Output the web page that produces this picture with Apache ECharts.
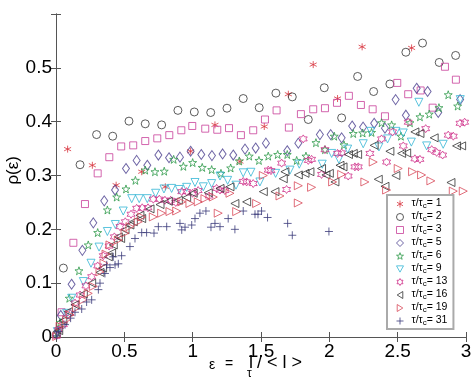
<!DOCTYPE html>
<html><head><meta charset="utf-8">
<script src="https://cdn.jsdelivr.net/npm/echarts@6/dist/echarts.min.js"></script>
<style>html,body{margin:0;padding:0;background:#fff}#c{width:475px;height:382px}</style>
</head><body><div id="c"></div>
<script>
const seriesNames = ['1','2','3','5','6','9','13','16','19','31'];
const xTicks = [0, 0.5, 1, 1.5, 2, 2.5, 3];
const yTicks = [0, 0.1, 0.2, 0.3, 0.4, 0.5];

const s1 = [[0.02,0.015],[0.085,0.349],[0.266,0.319],[0.44,0.282],[0.627,0.307],[0.80,0.279],[0.985,0.345],[1.163,0.394],[1.346,0.326],[1.524,0.391],[1.70,0.451],[1.882,0.506],[2.06,0.443],[2.24,0.539],[2.602,0.537]];
const s2 = [[0.005,0.005],[0.054,0.128],[0.176,0.320],[0.297,0.376],[0.415,0.373],[0.534,0.401],[0.653,0.396],[0.773,0.394],[0.892,0.421],[1.012,0.418],[1.132,0.417],[1.251,0.425],[1.370,0.443],[1.487,0.426],[1.609,0.453],[1.729,0.446],[1.846,0.404],[1.963,0.463],[2.09,0.407],[2.207,0.484],[2.324,0.456],[2.443,0.470],[2.56,0.529],[2.682,0.546],[2.804,0.510],[2.924,0.523]];
const s3 = [[0.005,0.004],[0.041,0.046],[0.127,0.175],[0.212,0.247],[0.305,0.304],[0.39,0.334],[0.477,0.354],[0.565,0.356],[0.653,0.364],[0.741,0.369],[0.829,0.375],[0.917,0.384],[0.997,0.392],[1.092,0.387],[1.18,0.385],[1.266,0.388],[1.353,0.375],[1.443,0.384],[1.529,0.404],[1.614,0.421],[1.704,0.389],[1.792,0.414],[1.882,0.423],[1.968,0.425],[2.056,0.435],[2.143,0.448],[2.231,0.431],[2.317,0.423],[2.407,0.410],[2.497,0.472],[2.577,0.451],[2.668,0.458],[2.756,0.426],[2.846,0.502],[2.926,0.478]];
const s5 = [[0.01,0.01],[0.035,0.04],[0.114,0.098],[0.193,0.161],[0.273,0.212],[0.353,0.253],[0.432,0.273],[0.512,0.313],[0.590,0.328],[0.668,0.319],[0.749,0.338],[0.827,0.333],[0.907,0.334],[0.985,0.345],[1.063,0.339],[1.141,0.337],[1.219,0.340],[1.297,0.338],[1.383,0.349],[1.461,0.351],[1.536,0.360],[1.692,0.346],[1.773,0.360],[1.931,0.376],[2.01,0.376],[2.09,0.370],[2.167,0.392],[2.247,0.390],[2.328,0.397],[2.407,0.388],[2.485,0.441],[2.56,0.412],[2.639,0.462],[2.719,0.456],[2.797,0.417],[2.957,0.441]];
const s6 = [[0.01,0.008],[0.03,0.027],[0.097,0.072],[0.168,0.123],[0.236,0.171],[0.305,0.194],[0.376,0.236],[0.444,0.260],[0.512,0.275],[0.581,0.291],[0.653,0.310],[0.724,0.307],[0.792,0.308],[0.861,0.330],[0.932,0.317],[1.0,0.324],[1.070,0.315],[1.139,0.311],[1.207,0.304],[1.278,0.314],[1.341,0.327],[1.414,0.336],[1.485,0.328],[1.553,0.336],[1.622,0.339],[1.692,0.339],[1.761,0.328],[1.829,0.336],[1.902,0.361],[1.968,0.348],[2.036,0.373],[2.107,0.357],[2.175,0.378],[2.244,0.379],[2.309,0.380],[2.382,0.398],[2.456,0.394],[2.524,0.373],[2.59,0.398],[2.663,0.409],[2.731,0.414],[2.802,0.426],[2.870,0.450],[2.939,0.429]];
const s9 = [[0.01,0.01],[0.078,0.044],[0.115,0.072],[0.2,0.103],[0.256,0.137],[0.315,0.167],[0.376,0.196],[0.434,0.209],[0.492,0.234],[0.554,0.257],[0.609,0.257],[0.668,0.257],[0.729,0.267],[0.79,0.275],[0.846,0.276],[0.902,0.274],[0.956,0.278],[1.017,0.287],[1.078,0.279],[1.139,0.285],[1.2,0.299],[1.256,0.291],[1.317,0.282],[1.37,0.305],[1.426,0.306],[1.492,0.288],[1.607,0.304],[1.712,0.310],[1.78,0.321],[1.948,0.321],[2.017,0.341],[2.07,0.330],[2.134,0.349],[2.248,0.359],[2.304,0.382],[2.363,0.353],[2.426,0.368],[2.487,0.382],[2.541,0.379],[2.6,0.362],[2.655,0.436],[2.712,0.355],[2.833,0.358],[2.958,0.441]];
const s13 = [[0.017,0.013],[0.054,0.023],[0.102,0.044],[0.139,0.063],[0.176,0.078],[0.219,0.095],[0.261,0.112],[0.305,0.132],[0.346,0.151],[0.388,0.169],[0.427,0.186],[0.468,0.205],[0.507,0.214],[0.549,0.228],[0.59,0.239],[0.631,0.24],[0.673,0.24],[0.712,0.256],[0.756,0.256],[0.797,0.254],[0.839,0.254],[0.876,0.25],[0.92,0.27],[0.956,0.27],[1.0,0.267],[1.04,0.272],[1.12,0.262],[1.175,0.276],[1.2,0.273],[1.236,0.272],[1.37,0.289],[1.395,0.288],[1.443,0.285],[1.553,0.310],[1.573,0.309],[1.651,0.323],[1.687,0.274],[1.809,0.368],[1.846,0.328],[1.87,0.330],[1.943,0.302],[1.968,0.348],[2.06,0.341],[2.09,0.342],[2.138,0.299],[2.187,0.316],[2.212,0.316],[2.297,0.341],[2.382,0.368],[2.419,0.325],[2.463,0.381],[2.541,0.355],[2.577,0.399],[2.626,0.331],[2.663,0.330],[2.705,0.387],[2.749,0.348],[2.785,0.343],[2.829,0.338],[2.87,0.375],[2.907,0.373],[2.956,0.397],[2.99,0.399]];
const s16 = [[0.02,0.012],[0.05,0.03],[0.09,0.047],[0.139,0.06],[0.2,0.08],[0.261,0.1],[0.322,0.12],[0.341,0.128],[0.383,0.149],[0.407,0.156],[0.419,0.171],[0.456,0.186],[0.473,0.183],[0.505,0.199],[0.541,0.208],[0.566,0.214],[0.614,0.226],[0.627,0.22],[0.688,0.238],[0.761,0.246],[0.822,0.252],[0.895,0.254],[0.956,0.259],[1.004,0.267],[1.114,0.268],[1.2,0.276],[1.273,0.279],[1.309,0.248],[1.395,0.251],[1.517,0.27],[1.602,0.27],[1.663,0.294],[1.675,0.307],[1.773,0.301],[1.822,0.304],[1.858,0.307],[1.943,0.313],[1.975,0.301],[2.0,0.304],[2.041,0.288],[2.078,0.319],[2.1,0.316],[2.14,0.339],[2.175,0.341],[2.207,0.339],[2.328,0.356],[2.358,0.293],[2.407,0.280],[2.443,0.345],[2.487,0.30],[2.529,0.341],[2.566,0.342],[2.626,0.381],[2.663,0.378],[2.767,0.370],[2.89,0.287],[2.931,0.355],[2.968,0.355]];
const s19 = [[0.005,0.001],[0.03,0.02],[0.078,0.032],[0.102,0.041],[0.151,0.054],[0.2,0.069],[0.236,0.081],[0.273,0.094],[0.322,0.121],[0.351,0.137],[0.366,0.154],[0.395,0.171],[0.456,0.18],[0.505,0.193],[0.541,0.205],[0.602,0.214],[0.627,0.223],[0.712,0.223],[0.773,0.23],[0.834,0.233],[0.883,0.234],[0.92,0.251],[0.98,0.248],[1.041,0.251],[1.09,0.257],[1.151,0.26],[1.187,0.23],[1.273,0.267],[1.322,0.233],[1.468,0.248],[1.517,0.300],[1.639,0.262],[1.773,0.249],[1.773,0.281],[1.87,0.278],[2.024,0.288],[2.09,0.302],[2.26,0.288],[2.321,0.325],[2.419,0.273],[2.504,0.313],[2.609,0.307],[2.675,0.301],[2.743,0.29],[2.907,0.271],[2.98,0.271]];
const s31 = [[0.005,0.002],[0.017,0.01],[0.066,0.023],[0.107,0.035],[0.139,0.046],[0.188,0.052],[0.224,0.065],[0.261,0.069],[0.31,0.088],[0.322,0.1],[0.358,0.118],[0.371,0.134],[0.395,0.129],[0.419,0.149],[0.432,0.134],[0.456,0.136],[0.48,0.151],[0.541,0.168],[0.578,0.183],[0.627,0.194],[0.663,0.194],[0.717,0.193],[0.749,0.205],[0.81,0.205],[0.907,0.211],[0.92,0.199],[0.944,0.204],[0.993,0.208],[1.017,0.22],[1.053,0.23],[1.097,0.234],[1.134,0.204],[1.163,0.211],[1.2,0.205],[1.26,0.22],[1.309,0.2],[1.37,0.234],[1.456,0.228],[1.478,0.228],[1.504,0.234],[1.548,0.222],[1.695,0.211],[1.729,0.189],[1.997,0.196]];
const seriesData = [s1, s2, s3, s5, s6, s9, s13, s16, s19, s31];

const SYM = {
  ast: 'path://M0,-5L0,5M-4.33,-2.5L4.33,2.5M-4.33,2.5L4.33,-2.5',
  plus: 'path://M0,-5L0,5M-5,0L5,0',
  star: 'path://M0,-10L2.35,-3.24L9.51,-3.09L3.80,1.24L5.88,8.09L0,4L-5.88,8.09L-3.80,1.24L-9.51,-3.09L-2.35,-3.24Z',
  hex: 'path://M0,-10L2.89,-5L8.66,-5L5.77,0L8.66,5L2.89,5L0,10L-2.89,5L-8.66,5L-5.77,0L-8.66,-5L-2.89,-5Z',
  down: 'path://M-5,-4L5,-4L0,5Z',
  left: 'path://M-4,0L4,-5L4,5Z',
  right: 'path://M4,0L-4,-5L-4,5Z'
};
const styles = [
  {symbol: SYM.ast, size: 7, color: '#d8343f'},
  {symbol: 'circle', size: 8, color: '#333333'},
  {symbol: 'rect', size: 7, color: '#c8409a'},
  {symbol: 'diamond', size: [7, 10], color: '#4a3f8f'},
  {symbol: SYM.star, size: 8, color: '#2e9a4a'},
  {symbol: SYM.down, size: 8, color: '#33b5d5'},
  {symbol: SYM.hex, size: 8, color: '#d0308a'},
  {symbol: SYM.left, size: 8, color: '#333333'},
  {symbol: SYM.right, size: 8, color: '#d84a5a'},
  {symbol: SYM.plus, size: 8, color: '#3b3b7a'}
];

const series = seriesNames.map((n, i) => ({
  name: n,
  type: 'scatter',
  data: seriesData[i],
  symbol: styles[i].symbol,
  symbolSize: styles[i].size,
  itemStyle: {color: 'transparent', borderColor: styles[i].color, borderWidth: 1},
  emphasis: {disabled: true},
  animation: false
}));

const legendData = seriesNames.map((n, i) => ({
  name: n,
  icon: styles[i].symbol,
  itemStyle: {color: 'transparent', borderColor: styles[i].color, borderWidth: 1}
}));

const axisCommon = {
  axisLine: {show: true, lineStyle: {color: '#555', width: 1}},
  axisTick: {show: true, inside: true, length: 5, lineStyle: {color: '#555'}},
  splitLine: {show: false}
};
const FONT = 'Liberation Sans, Arial, sans-serif';

const chart = echarts.init(document.getElementById('c'), null, {renderer: 'canvas'});
chart.setOption({
  backgroundColor: '#fff',
  animation: false,
  grid: {left: 56, right: 9, top: 14, bottom: 45, containLabel: false},
  xAxis: [
    Object.assign({type: 'value', min: 0, max: 3, interval: 0.5, position: 'bottom',
      axisLabel: {color: '#000', fontSize: 19, fontFamily: FONT, margin: 5,
        formatter: v => (xTicks.indexOf(v) >= 0 ? String(v) : '')}}, axisCommon),
    Object.assign({type: 'value', min: 0, max: 3, interval: 0.5, position: 'top', axisLabel: {show: false}}, axisCommon)
  ],
  yAxis: [
    Object.assign({type: 'value', min: 0, max: 0.6, interval: 0.1, position: 'left',
      axisLabel: {color: '#000', fontSize: 19, fontFamily: FONT, margin: 4,
        formatter: v => { const r = Math.round(v * 10) / 10; return yTicks.indexOf(r) >= 0 ? String(r) : ''; }}}, axisCommon),
    Object.assign({type: 'value', min: 0, max: 0.6, interval: 0.1, position: 'right', axisLabel: {show: false}}, axisCommon)
  ],
  legend: {
    orient: 'vertical',
    left: 387, top: 195,
    padding: [3, 6, 2, 9],
    itemGap: 1,
    itemWidth: 7, itemHeight: 7,
    backgroundColor: '#fff',
    borderColor: '#aaa',
    borderWidth: 2,
    borderRadius: 0,
    data: legendData,
    itemStyle: {color: 'transparent', borderWidth: 1},
    formatter: name => '{a|τ/τ}{s|c}{a|= ' + name + '}',
    textStyle: {
      color: '#000',
      fontFamily: FONT,
      fontSize: 10,
      lineHeight: 12,
      padding: [0, 0, 0, 3],
      rich: {
        a: {fontSize: 10.5, lineHeight: 12, fontFamily: FONT, color: '#000', verticalAlign: 'top'},
        s: {fontSize: 8, lineHeight: 6, verticalAlign: 'bottom', fontFamily: FONT, color: '#000'}
      }
    }
  },
  graphic: [
    {type: 'text', left: 5, top: 156, rotation: Math.PI / 2,
      style: {text: 'ρ(ε)', fontSize: 17, fontFamily: FONT, fill: '#000'}},
    {type: 'text', left: 209, top: 358, style: {text: 'ε', fontSize: 14, fontFamily: FONT, fill: '#000'}},
    {type: 'text', left: 225, top: 357, style: {text: '=', fontSize: 14, fontFamily: FONT, fill: '#000'}},
    {type: 'text', left: 249, top: 354, style: {text: 'l', fontSize: 18, fontFamily: FONT, fill: '#000'}},
    {type: 'text', left: 247, top: 368, style: {text: 'τ', fontSize: 12, fontFamily: FONT, fill: '#000'}},
    {type: 'text', left: 257, top: 354, style: {text: '/ < l >', fontSize: 18, fontFamily: FONT, fill: '#000'}}
  ],
  series: series
});
</script>
</body></html>
